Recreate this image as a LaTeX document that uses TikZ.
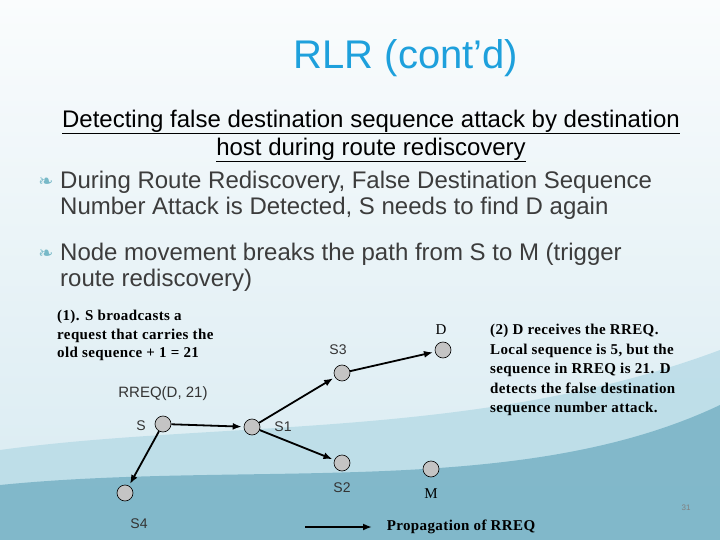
\documentclass[tikz,border=0pt]{standalone}
\usepackage{fontspec}
\setmainfont{Liberation Serif}
\setsansfont{Liberation Sans}
\newfontfamily\symfont{DejaVu Sans}
\newfontfamily\notefont[LetterSpace=2.6]{Liberation Serif}
\usetikzlibrary{arrows.meta}
\definecolor{titleblue}{RGB}{30,160,220}
\definecolor{bodygray}{RGB}{60,60,60}
\definecolor{swirl}{RGB}{120,185,200}
\definecolor{bgtop}{RGB}{250,252,253}
\definecolor{bgmid}{RGB}{215,234,241}
\definecolor{wavelight}{RGB}{185,220,231}
\definecolor{wavedark}{RGB}{110,172,193}
\definecolor{nodegray}{RGB}{196,196,196}
\tikzset{
  rnode/.style={circle, draw=black, fill=nodegray, minimum size=16pt, inner sep=0pt, line width=0.6pt},
  nlabel/.style={font=\sffamily\fontsize{14}{16}\selectfont, text=black!80},
  prop/.style={-{Latex[length=9pt,width=7pt]}, line width=1.8pt, shorten >=2pt},
  note/.style={font=\notefont\bfseries\fontsize{15}{18.5}\selectfont, align=left, anchor=north west, inner sep=0pt},
  bullet/.style={font=\sffamily\fontsize{24}{26}\selectfont, text=bodygray, align=left, anchor=north west, inner sep=0pt},
  bmark/.style={font=\symfont\fontsize{18}{20}\selectfont, text=swirl}
}
\begin{document}
\begin{tikzpicture}[x=1pt, y=-1pt]  % 1pt = 1 pixel of the slide

    % 背景
    \useasboundingbox (0,0) rectangle (720,540);
    \shade[top color=bgtop, bottom color=bgmid] (0,0) rectangle (720,540);
    \fill[wavelight, opacity=0.85] (0,450) .. controls (220,420) and (480,440) .. (720,350) -- (720,540) -- (0,540) -- cycle;
    \fill[wavedark, opacity=0.75] (0,485) .. controls (250,460) and (520,500) .. (720,405) -- (720,540) -- (0,540) -- cycle;

    % 标题
    \node[font=\sffamily\fontsize{40}{44}\selectfont, text=titleblue] (title) at (406,58) {RLR (cont’d)};

    % 副标题
    \node[font=\sffamily\fontsize{24}{28}\selectfont, align=center] (subtitle) at (371,136)
      {\underline{Detecting false destination sequence attack by destination}\\
       \underline{host during route rediscovery}};

    % 要点
    \node[bmark] (b1) at (46,182) {❧};
    \node[bullet] (t1) at (60,171) {During Route Rediscovery, False Destination Sequence\\Number Attack is Detected, S needs to find D again};
    \node[bmark] (b2) at (46,254) {❧};
    \node[bullet] (t2) at (60,243) {Node movement breaks the path from S to M (trigger\\route rediscovery)};

    % 说明文字
    \node[note] (n1) at (57,310) {(1). S broadcasts a\\request that carries the\\old sequence + 1 = 21};
    \node[note, font=\notefont\bfseries\fontsize{15}{19.5}\selectfont] (n2) at (490,324) {(2) D receives the RREQ.\\Local sequence is 5, but the\\sequence in RREQ is 21. D\\detects the false destination\\sequence number attack.};

    % 节点
    \node[rnode] (s)  at (163,424) {};
    \node[rnode] (s1) at (252,427) {};
    \node[rnode] (s2) at (342,463) {};
    \node[rnode] (s3) at (342,373) {};
    \node[rnode] (s4) at (125,493) {};
    \node[rnode] (d)  at (443,350) {};
    \node[rnode] (m)  at (431,469) {};

    % 节点标签
    \node[nlabel] (ls)  at (141,426) {S};
    \node[nlabel] (ls1) at (283,427) {S1};
    \node[nlabel] (ls2) at (342,488) {S2};
    \node[nlabel] (ls3) at (338,350) {S3};
    \node[nlabel] (ls4) at (139,524) {S4};
    \node[font=\fontsize{15}{18}\selectfont] (ld) at (441,330) {D};
    \node[font=\fontsize{15}{18}\selectfont] (lm) at (431,494) {M};
    \node[nlabel, font=\sffamily\fontsize{15}{18}\selectfont] (rreq) at (163,394) {RREQ(D, 21)};

    % RREQ 传播
    \draw[prop] (s) -- (s1);
    \draw[prop] (s) -- (s4);
    \draw[prop] (s1) -- (s3);
    \draw[prop] (s1) -- (s2);
    \draw[prop] (s3) -- (d);

    % 图例
    \coordinate (la) at (305,527);
    \coordinate (lb) at (374,527);
    \draw[prop] (la) -- (lb);
    \node[font=\notefont\bfseries\fontsize{15}{16}\selectfont] (legend) at (461,527) {Propagation of RREQ};

    % 页码
    \node[font=\sffamily\fontsize{8}{10}\selectfont, text=gray] (page) at (686,508) {31};

\end{tikzpicture}
\end{document}
